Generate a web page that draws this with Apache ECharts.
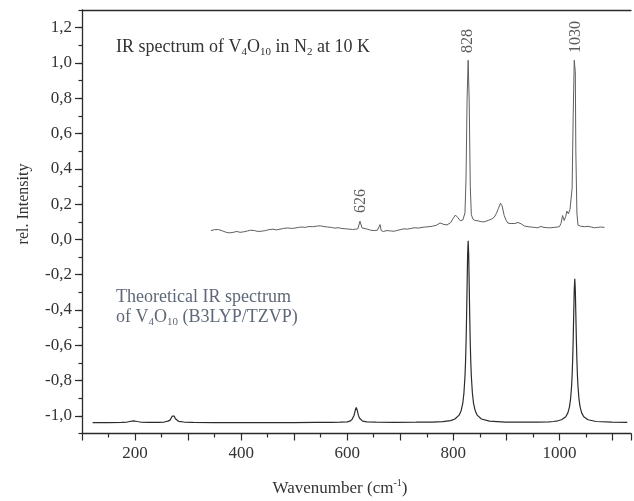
<!DOCTYPE html>
<html><head><meta charset="utf-8">
<script src="https://cdn.jsdelivr.net/npm/echarts@6/dist/echarts.min.js"></script>
<style>html,body{margin:0;padding:0;background:#fff}#c{width:634px;height:501px}</style>
</head><body><div id="c"></div>
<script>
// ---------------- DATA ----------------
const xRange = [100, 1135];
const yRange = [-1.1, 1.3];
const xLabelValues = [200, 400, 600, 800, 1000];
const yLabelValues = [-1.0, -0.8, -0.6, -0.4, -0.2, 0.0, 0.2, 0.4, 0.6, 0.8, 1.0, 1.2];
const yMinorStep = 0.1;
const xMajorStep = 100;
const peakLabels = [[626, 0.15], [828, 1.056], [1030, 1.056]];

// experimental spectrum (V4O10 in N2, 10 K): [wavenumber, rel. intensity]
const expSpectrum = [
 [343,0.050],[350,0.055],[357,0.056],[365,0.048],[372,0.040],[378,0.037],[385,0.040],[392,0.045],
 [398,0.040],[405,0.043],[412,0.048],[418,0.052],[425,0.050],[432,0.045],[440,0.047],[446,0.050],
 [452,0.055],[460,0.058],[467,0.054],[473,0.058],[480,0.062],[488,0.065],[495,0.062],[501,0.064],
 [508,0.068],[515,0.070],[521,0.068],[528,0.073],[535,0.072],[542,0.075],[549,0.077],[556,0.073],
 [563,0.070],[570,0.068],[576,0.064],[583,0.066],[590,0.062],[597,0.060],[604,0.058],[610,0.056],
 [616,0.058],[620,0.060],[622,0.080],[624,0.103],[626,0.098],[628,0.065],[631,0.054],[638,0.058],
 [644,0.052],[651,0.050],[657,0.052],[660,0.048],[662,0.084],[664,0.050],[668,0.045],[675,0.050],
 [682,0.048],[688,0.046],[693,0.050],[700,0.055],[707,0.060],[713,0.058],[720,0.062],[727,0.066],
 [734,0.064],[741,0.068],[747,0.070],[754,0.072],[761,0.075],[768,0.080],[775,0.093],[782,0.085],
 [788,0.082],[795,0.095],[800,0.120],[804,0.138],[808,0.125],[813,0.106],[818,0.110],[822,0.150],
 [824,0.350],[826,0.800],[828,1.015],[830,0.780],[832,0.300],[834,0.140],[837,0.115],[841,0.107],
 [847,0.105],[853,0.100],[859,0.100],[866,0.108],[872,0.115],[877,0.125],[881,0.146],[885,0.175],
 [889,0.205],[892,0.190],[896,0.135],[900,0.105],[903,0.092],[909,0.090],[916,0.090],[922,0.096],
 [928,0.088],[934,0.076],[941,0.072],[947,0.070],[953,0.068],[959,0.066],[965,0.073],[971,0.068],
 [978,0.066],[984,0.066],[990,0.068],[996,0.070],[1000,0.072],[1003,0.090],[1006,0.135],[1009,0.107],
 [1012,0.130],[1014,0.160],[1017,0.145],[1020,0.170],[1022,0.175],[1024,0.290],[1026,0.700],[1028,1.015],
 [1030,0.950],[1031,0.500],[1033,0.150],[1035,0.081],[1040,0.075],[1047,0.072],[1054,0.074],[1060,0.070],
 [1066,0.066],[1072,0.068],[1078,0.070],[1085,0.068]
];

// theoretical spectrum (B3LYP/TZVP), offset downward
const theoSpectrum = [
 [120,-1.038],[150,-1.038],[175,-1.037],[185,-1.035],[190,-1.032],[197,-1.028],[204,-1.032],[210,-1.035],
 [225,-1.037],[245,-1.037],[255,-1.035],[262,-1.030],[266,-1.024],[268,-1.016],[270,-1.002],[272,-0.993],
 [274,-1.002],[276,-1.016],[278,-1.024],[282,-1.031],[292,-1.035],[310,-1.037],[350,-1.038],[400,-1.038],
 [450,-1.038],[500,-1.038],[540,-1.037],[570,-1.037],[587,-1.036],[600,-1.034],[605,-1.030],[609,-1.021],
 [611,-1.012],[613,-0.996],[615,-0.970],[617,-0.953],[619,-0.970],[621,-0.996],[623,-1.012],[625,-1.021],
 [629,-1.030],[637,-1.034],[655,-1.036],[690,-1.037],[730,-1.036],[760,-1.035],[780,-1.033],[795,-1.027],
 [803,-1.018],[811,-0.996],[815,-0.968],[818,-0.926],[820,-0.872],[822,-0.776],[823,-0.699],[824,-0.591],
 [825,-0.444],[826,-0.262],[827,-0.086],[828,-0.008],[829,-0.086],[830,-0.262],[831,-0.444],[832,-0.591],
 [833,-0.699],[834,-0.776],[836,-0.872],[838,-0.926],[841,-0.968],[845,-0.996],[853,-1.018],[868,-1.030],
 [898,-1.035],[930,-1.036],[960,-1.035],[980,-1.034],[989,-1.032],[997,-1.028],[1004,-1.022],[1012,-1.005],
 [1016,-0.983],[1019,-0.949],[1021,-0.907],[1023,-0.831],[1024,-0.770],[1025,-0.685],[1026,-0.568],[1027,-0.424],
 [1028,-0.285],[1029,-0.223],[1030,-0.285],[1031,-0.424],[1032,-0.568],[1033,-0.685],[1034,-0.770],[1035,-0.831],
 [1037,-0.907],[1039,-0.949],[1042,-0.983],[1046,-1.005],[1054,-1.022],[1069,-1.032],[1099,-1.036],[1128,-1.037]
];

// ---------------- CHART ----------------
const FONT = "'Liberation Serif', 'Times New Roman', serif";
const AX = '#2a2a2a';
const fmtY = v => (Math.abs(v) < 1e-9 ? 0 : v).toFixed(1).replace('.', ',');

const chart = echarts.init(document.getElementById('c'), null, {renderer: 'canvas'});
chart.setOption({
  backgroundColor: '#ffffff',
  animation: false,
  grid: {left: 82, right: 0, top: 10, bottom: 67.5, containLabel: false},
  xAxis: [
    {type: 'value', position: 'bottom', min: xRange[0], max: xRange[1], interval: xMajorStep,
     axisLine: {show: true, onZero: false, lineStyle: {color: AX, width: 1.3}},
     axisTick: {show: true, length: 7, lineStyle: {color: AX, width: 1.2}},
     minorTick: {show: true, splitNumber: 2, length: 4, lineStyle: {color: AX, width: 1.2}},
     axisLabel: {formatter: v => (xLabelValues.indexOf(v) >= 0 ? String(v) : ''), margin: 12,
                 fontFamily: FONT, fontSize: 17, color: '#333'},
     splitLine: {show: false}},
    {type: 'value', position: 'top', min: xRange[0], max: xRange[1],
     axisLine: {show: true, onZero: false, lineStyle: {color: AX, width: 1.3}},
     axisTick: {show: false}, axisLabel: {show: false}, splitLine: {show: false}}
  ],
  yAxis: [
    {type: 'value', position: 'left', min: yRange[0], max: yRange[1], interval: yMinorStep,
     axisLine: {show: true, onZero: false, lineStyle: {color: AX, width: 1.3}},
     axisTick: {show: true, length: 7, customValues: yLabelValues, lineStyle: {color: AX, width: 1.2}},
     axisLabel: {customValues: yLabelValues, formatter: fmtY, margin: 10,
                 fontFamily: FONT, fontSize: 17, color: '#333'},
     splitLine: {show: false}},
    {type: 'value', position: 'left', min: yRange[0], max: yRange[1], interval: yMinorStep,
     axisLine: {show: false, onZero: false},
     axisTick: {show: true, length: 3.5, lineStyle: {color: AX, width: 1.2}},
     axisLabel: {show: false}, splitLine: {show: false}}
  ],
  series: [
    {name: 'experimental', type: 'line', xAxisIndex: 0, yAxisIndex: 0, data: expSpectrum,
     symbol: 'none', lineStyle: {color: '#5e5e5e', width: 1}, z: 3},
    {name: 'theoretical', type: 'line', xAxisIndex: 0, yAxisIndex: 0, data: theoSpectrum,
     symbol: 'none', smooth: false, lineStyle: {color: '#2b2b2b', width: 1.2}, z: 3},
    {name: 'peaks', type: 'scatter', xAxisIndex: 0, yAxisIndex: 0, data: peakLabels,
     symbolSize: 1, itemStyle: {color: 'rgba(0,0,0,0)'}, silent: true,
     label: {show: true, position: 'inside', rotate: 90, align: 'left', verticalAlign: 'middle',
             formatter: p => String(p.value[0]), fontFamily: FONT, fontSize: 16, color: '#333'}}
  ],
  graphic: [
    {type: 'text', x: 116, y: 47, style: {
      text: '{a|IR spectrum of V}{s|4}{a|O}{s|10}{a| in N}{s|2}{a| at 10 K}',
      verticalAlign: 'middle', align: 'left',
      rich: {a: {fontFamily: FONT, fontSize: 18, lineHeight: 22, fill: '#333', verticalAlign: 'middle'},
             s: {fontFamily: FONT, fontSize: 11, lineHeight: 12, fill: '#333', verticalAlign: 'bottom'}}}},
    {type: 'text', x: 116, y: 297, style: {
      text: 'Theoretical IR spectrum', fontFamily: FONT, fontSize: 18, fill: '#5f6878',
      verticalAlign: 'middle', align: 'left'}},
    {type: 'text', x: 116, y: 317, style: {
      text: '{a|of V}{s|4}{a|O}{s|10}{a| (B3LYP/TZVP)}',
      verticalAlign: 'middle', align: 'left',
      rich: {a: {fontFamily: FONT, fontSize: 18, lineHeight: 22, fill: '#5f6878', verticalAlign: 'middle'},
             s: {fontFamily: FONT, fontSize: 11, lineHeight: 12, fill: '#5f6878', verticalAlign: 'bottom'}}}},
    {type: 'text', x: 24, y: 204, rotation: Math.PI / 2, style: {
      text: 'rel. Intensity', fontFamily: FONT, fontSize: 16, fill: '#333',
      align: 'center', verticalAlign: 'middle'}},
    {type: 'text', x: 340, y: 489, style: {
      text: '{a|Wavenumber (cm}{p|-1}{a|)}',
      align: 'center', verticalAlign: 'middle',
      rich: {a: {fontFamily: FONT, fontSize: 17, lineHeight: 22, fill: '#333', verticalAlign: 'middle'},
             p: {fontFamily: FONT, fontSize: 10, lineHeight: 12, fill: '#333', verticalAlign: 'top'}}}}
  ]
});
</script>
</body></html>
